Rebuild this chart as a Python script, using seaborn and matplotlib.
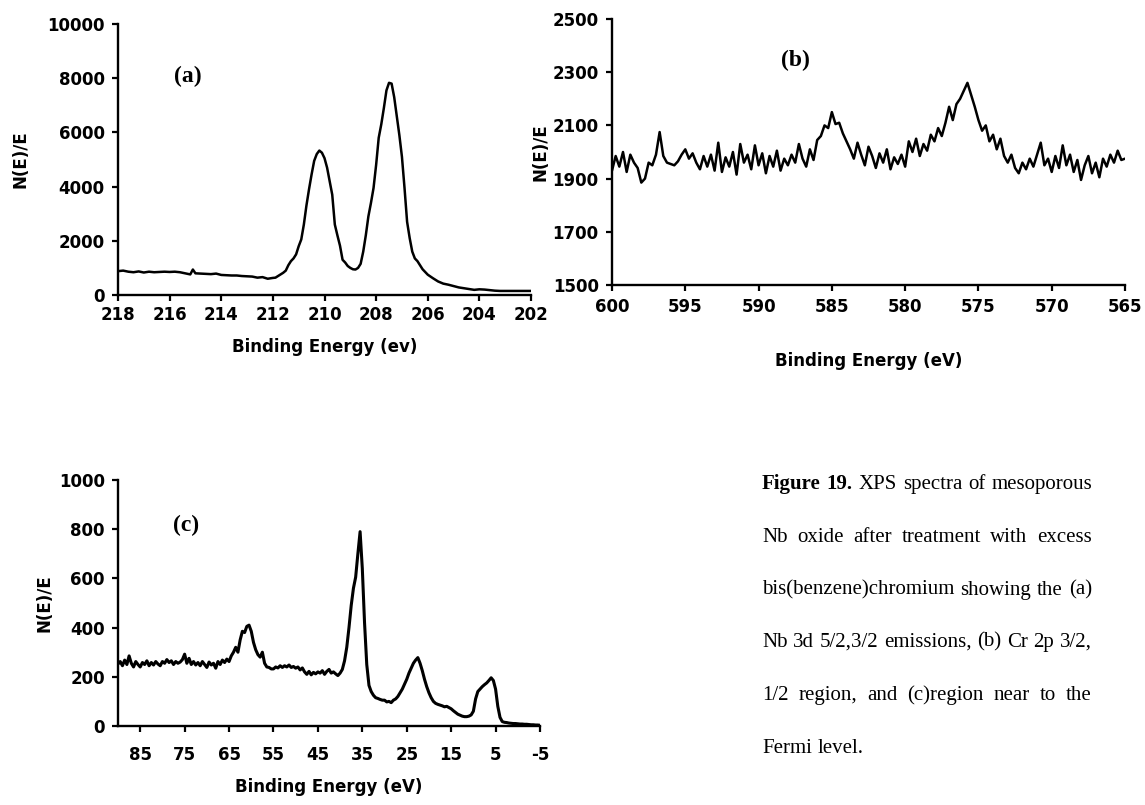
import numpy as np
import pandas as pd
import matplotlib
matplotlib.use("Agg")
import matplotlib.pyplot as plt
import seaborn as sns

# ---------------- data ----------------
# (a) Nb 3d 5/2, 3/2 region
nb3d_energy = [218.0, 217.8, 217.6, 217.4, 217.2, 217.0, 216.8, 216.6, 216.4, 216.2,
               216.0, 215.8, 215.6, 215.4, 215.2, 215.1, 215.0, 214.8, 214.6, 214.4,
               214.2, 214.0, 213.8, 213.6, 213.4, 213.2, 213.0, 212.8, 212.6, 212.4,
               212.2, 212.0, 211.9, 211.8, 211.6, 211.5, 211.4, 211.3, 211.2, 211.1,
               211.0, 210.9, 210.8, 210.7, 210.6, 210.5, 210.4, 210.3, 210.2, 210.1,
               210.0, 209.9, 209.8, 209.7, 209.6, 209.5, 209.4, 209.3, 209.2, 209.1,
               209.0, 208.9, 208.8, 208.7, 208.6, 208.5, 208.4, 208.3, 208.2, 208.1,
               208.0, 207.9, 207.8, 207.7, 207.6, 207.5, 207.4, 207.3, 207.2, 207.1,
               207.0, 206.9, 206.8, 206.7, 206.6, 206.5, 206.4, 206.2, 206.0, 205.8,
               205.6, 205.4, 205.2, 205.0, 204.8, 204.6, 204.4, 204.2, 204.0, 203.8,
               203.6, 203.4, 203.2, 203.0, 202.5, 202.0]
nb3d_counts = [880, 900, 860, 840, 870, 830, 860, 840, 850, 860,
               850, 860, 840, 800, 760, 940, 800, 790, 780, 770,
               790, 740, 730, 720, 720, 700, 690, 680, 640, 660,
               600, 630, 640, 700, 820, 900, 1100, 1250, 1350, 1500,
               1800, 2050, 2600, 3300, 3900, 4450, 4950, 5200, 5330, 5250,
               5050, 4700, 4200, 3700, 2600, 2200, 1820, 1300, 1200, 1070,
               1000, 950, 940, 1000, 1150, 1600, 2200, 2900, 3400, 3950,
               4800, 5800, 6300, 6900, 7550, 7830, 7800, 7300, 6600, 5900,
               5100, 3950, 2700, 2100, 1600, 1350, 1250, 950, 750, 620,
               500, 420, 380, 330, 280, 250, 220, 190, 210, 200,
               180, 160, 150, 150, 150, 150]

# (b) Cr 2p 3/2, 1/2 region, 0.25 eV steps
cr2p_start, cr2p_stop = 600.0, 565.0
cr2p_counts = [1930, 1985, 1945, 2000, 1925, 1990, 1960,
               1940, 1885, 1900, 1960, 1950, 1990, 2075, 1985, 1960, 1955,
               1950, 1965, 1990, 2010, 1975, 1995, 1960, 1935, 1985, 1945, 1990, 1930,
               2035, 1925, 1980, 1945, 2000, 1915, 2030, 1960, 1990, 1935,
               2025, 1950, 1995, 1920, 1985, 1945, 2005, 1930, 1975, 1950,
               1990, 1960, 2030, 1975, 1945, 2010, 1970, 2045,
               2060, 2100, 2090, 2150, 2105, 2110, 2070, 2040,
               2010, 1975, 2035, 1990, 1950, 2020, 1985, 1940,
               1995, 1960, 2010, 1935, 1980, 1955, 1990, 1945,
               2040, 2000, 2050, 1985, 2030, 2005, 2065, 2040,
               2090, 2060, 2110, 2170, 2120, 2180, 2200, 2230, 2260, 2215, 2170, 2120,
               2080, 2100, 2040, 2065, 2010, 2050, 1985, 1960, 1990, 1940, 1920, 1960,
               1935, 1975, 1945, 1990, 2035, 1950, 1975, 1925, 1985, 1940,
               2025, 1950, 1990, 1925, 1970, 1895, 1950, 1985, 1920, 1960,
               1905, 1975, 1945, 1990, 1960, 2005, 1970, 1975]

# (c) region near the Fermi level, 0.5 eV steps
fermi_start, fermi_stop = 90.0, -5.0
fermi_counts = [252, 262, 245, 268, 250, 285, 255, 240, 262, 250,
                240, 258, 250, 265, 245, 258, 248, 262, 252, 245,
                262, 255, 270, 258, 265, 250, 262, 255, 260, 270,
                292, 255, 275, 250, 262, 248, 258, 245, 262, 250,
                238, 260, 248, 255, 235, 262, 250, 268, 258, 272,
                262, 285, 300, 320, 300, 350, 385, 380, 405, 410,
                385, 340, 310, 290, 280, 300, 255, 240, 238, 232,
                232, 240, 236, 245, 238, 245, 240, 248, 238, 242,
                235, 240, 228, 236, 220, 210, 222, 208, 218, 212,
                220, 215, 225, 210, 222, 230, 215, 220, 212, 205,
                215, 230, 265, 320, 400, 490, 560, 605, 700, 790,
                640, 420, 250, 165, 140, 125, 115, 112, 108, 105,
                105, 98, 100, 95, 105, 110, 120, 135, 150, 170,
                190, 215, 235, 255, 268, 278, 255, 225, 190, 160,
                135, 115, 100, 92, 88, 85, 82, 78, 80, 75,
                70, 62, 55, 48, 44, 40, 38, 38, 40, 45,
                60, 110, 140, 150, 160, 168, 175, 185, 196, 185,
                150, 80, 35, 18, 15, 14, 12, 11, 10, 10,
                9, 8, 8, 7, 7, 6, 5, 5, 4, 4, 3]

a_xticks = [218, 216, 214, 212, 210, 208, 206, 204, 202]
a_yticks = [0, 2000, 4000, 6000, 8000, 10000]
b_xticks = [600, 595, 590, 585, 580, 575, 570, 565]
b_yticks = [1500, 1700, 1900, 2100, 2300, 2500]
c_xticks = [85, 75, 65, 55, 45, 35, 25, 15, 5, -5]
c_yticks = [0, 200, 400, 600, 800, 1000]

ylabel_text = "N(E)/E"
caption_lines = [
    "Figure 19. XPS spectra of mesoporous",
    "Nb oxide after treatment with excess",
    "bis(benzene)chromium showing the (a)",
    "Nb 3d 5/2,3/2 emissions, (b) Cr 2p 3/2,",
    "1/2 region, and (c)region near to the",
    "Fermi level.",
]

# ---------------- style ----------------
sns.set_theme(style="ticks")
plt.rcParams["font.family"] = ["DejaVu Sans"]
plt.rcParams["axes.unicode_minus"] = False
plt.rcParams["text.color"] = "black"

W, H = 1145, 805
fig = plt.figure(figsize=(W / 100, H / 100), dpi=100)
fig.patch.set_facecolor("white")


def px_axes(left, top, right, bottom):
    return fig.add_axes([left / W, 1 - bottom / H, (right - left) / W, (bottom - top) / H])


def style_axes(ax, xlim, xticks, ylim, yticks, xlabel, ylabel_x, xpad, xlabelpad):
    ax.set_facecolor("white")
    ax.set_xlim(*xlim)
    ax.set_ylim(*ylim)
    ax.set_xticks(xticks)
    ax.set_xticklabels([str(t) for t in xticks])
    ax.set_yticks(yticks)
    ax.set_yticklabels([str(t) for t in yticks])
    for side in ("top", "right"):
        ax.spines[side].set_visible(False)
    for side in ("left", "bottom"):
        ax.spines[side].set_color("black")
        ax.spines[side].set_linewidth(1.7)
    ax.tick_params(axis="both", direction="out", length=4.5, width=1.6, colors="black",
                   labelsize=12)
    ax.tick_params(axis="x", pad=xpad)
    ax.tick_params(axis="y", pad=5)
    for lab in ax.get_xticklabels() + ax.get_yticklabels():
        lab.set_fontweight("bold")
    ax.set_xlabel(xlabel, fontsize=12, fontweight="bold", labelpad=xlabelpad, color="black")
    ax.set_ylabel(ylabel_text, fontsize=12, fontweight="bold", color="black")
    ax.yaxis.set_label_coords(ylabel_x, 0.5)
    ax.grid(False)


panel_font = dict(fontsize=17, fontweight="bold", family="Liberation Serif",
                  ha="center", va="center", color="black")

# (a)
ax_a = px_axes(118, 24, 531, 295)
df_a = pd.DataFrame({"energy": nb3d_energy, "counts": nb3d_counts})
sns.lineplot(data=df_a, x="energy", y="counts", ax=ax_a, color="black", lw=1.8,
             estimator=None, sort=False)
style_axes(ax_a, (218, 202), a_xticks, (0, 10000), a_yticks,
           "Binding Energy (ev)", -0.215, 3.5, 10)
ax_a.text(215.3, 8050, "(a)", **panel_font)

# (b)
ax_b = px_axes(612, 19, 1125, 285)
df_b = pd.DataFrame({"energy": np.linspace(cr2p_start, cr2p_stop, len(cr2p_counts)),
                     "counts": cr2p_counts})
sns.lineplot(data=df_b, x="energy", y="counts", ax=ax_b, color="black", lw=1.8,
             estimator=None, sort=False)
style_axes(ax_b, (600, 565), b_xticks, (1500, 2500), b_yticks,
           "Binding Energy (eV)", -0.122, 5, 26)
ax_b.text(587.5, 2345, "(b)", **panel_font)

# (c)
ax_c = px_axes(118, 480, 540, 726)
df_c = pd.DataFrame({"energy": np.linspace(fermi_start, fermi_stop, len(fermi_counts)),
                     "counts": fermi_counts})
sns.lineplot(data=df_c, x="energy", y="counts", ax=ax_c, color="black", lw=2.2,
             estimator=None, sort=False)
style_axes(ax_c, (90, -5), c_xticks, (0, 1000), c_yticks,
           "Binding Energy (eV)", -0.152, 10, 10)
ax_c.text(74.7, 815, "(c)", **panel_font)

# ---------------- justified caption ----------------
renderer = fig.canvas.get_renderer()
cap_left, cap_right = 762, 1092
cap_y = [484, 537, 590, 642, 695, 748]
cap_size = 15

for li, (line, yc) in enumerate(zip(caption_lines, cap_y)):
    words = line.split(" ")
    items = []
    for wi, w in enumerate(words):
        bold = (li == 0 and wi < 2)
        t = fig.text(0, 1 - yc / H, w, fontsize=cap_size, family="Liberation Serif",
                     fontweight="bold" if bold else "normal", ha="left", va="center",
                     color="black")
        items.append(t)
    widths = [t.get_window_extent(renderer).width for t in items]
    last = li == len(caption_lines) - 1
    if last or len(items) == 1:
        gap = 0.28 * cap_size * 100 / 72
    else:
        gap = (cap_right - cap_left - sum(widths)) / (len(items) - 1)
    x = cap_left
    for t, wdt in zip(items, widths):
        t.set_x(x / W)
        x += wdt + gap

fig.savefig("out.png", dpi=100, facecolor="white")
